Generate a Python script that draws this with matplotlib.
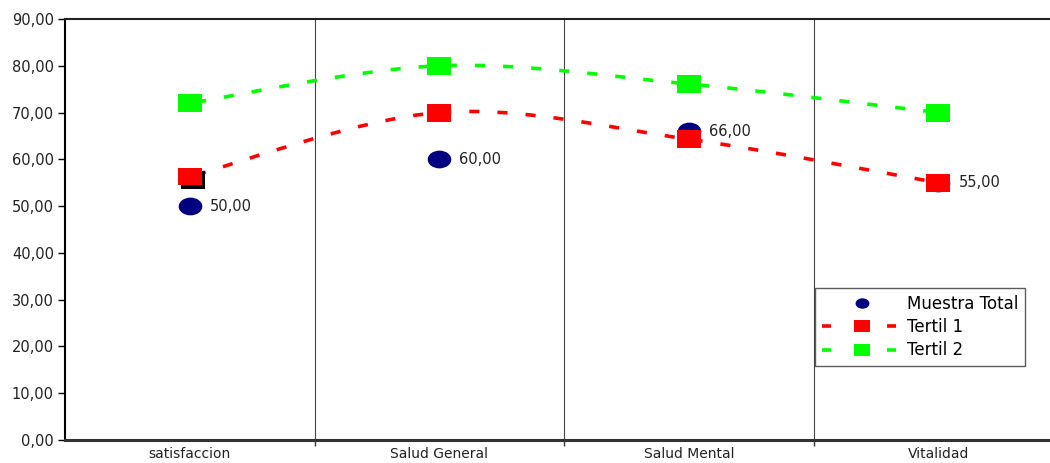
import numpy as np
import matplotlib
matplotlib.use("Agg")
import matplotlib.pyplot as plt
from matplotlib.path import Path
from matplotlib.patches import PathPatch
from matplotlib.transforms import Affine2D
from matplotlib.lines import Line2D
import matplotlib.patheffects as pe

plt.rcParams['font.family'] = ['DejaVu Sans']

categorias = ['satisfaccion', 'Salud General', 'Salud Mental', 'Vitalidad']
muestra_total = [50.0, 60.0, 66.0, 55.0]
tertil_1 = [56.3, 70.0, 64.3, 55.0]
tertil_2 = [72.0, 80.0, 76.1, 70.0]
yticks = [0, 10, 20, 30, 40, 50, 60, 70, 80, 90]

AZUL = '#000080'
ROJO = '#FF0000'
VERDE = '#00FF00'

# markers are a bit wider than tall
cuadro = Path([(-1.35, -1), (1.35, -1), (1.35, 1), (-1.35, 1), (-1.35, -1)],
              [Path.MOVETO, Path.LINETO, Path.LINETO, Path.LINETO, Path.CLOSEPOLY])
elipse = Path.unit_circle().transformed(Affine2D().scale(1.33, 1.0))


def suave(x, y):
    # Catmull-Rom style bezier through the points
    pts = np.column_stack([x, y]).astype(float)
    verts = [pts[0]]
    codes = [Path.MOVETO]
    n = len(pts)
    for i in range(n - 1):
        p0 = pts[i - 1] if i > 0 else pts[i]
        p1 = pts[i]
        p2 = pts[i + 1]
        p3 = pts[i + 2] if i + 2 < n else pts[i + 1]
        c1 = p1 + (p2 - p0) / 6.0
        c2 = p2 - (p3 - p1) / 6.0
        verts += [c1, c2, p2]
        codes += [Path.CURVE4] * 3
    return Path(verts, codes)


def coma(v):
    return f'{v:.2f}'.replace('.', ',')


fig = plt.figure(figsize=(10.5, 4.63), dpi=100)
ax = fig.add_axes([65 / 1050, 23 / 463, 998 / 1050, 421 / 463])

x = np.arange(len(categorias))

for serie, color in [(tertil_1, ROJO), (tertil_2, VERDE)]:
    patch = PathPatch(suave(x, serie), facecolor='none', edgecolor=color,
                      lw=2.6, linestyle=(6, (2.8, 5.0)), zorder=2, capstyle='butt')
    ax.add_patch(patch)

ax.plot(x, muestra_total, linestyle='none', marker=elipse, markersize=17,
        color=AZUL, markeredgewidth=0, zorder=3)
ax.plot(x[:1], tertil_1[:1], linestyle='none', marker=cuadro, markersize=17,
        color=ROJO, markeredgewidth=0, zorder=4,
        path_effects=[pe.SimplePatchShadow(offset=(2.5, -2.5), shadow_rgbFace='black', alpha=1.0),
                      pe.Normal()])
ax.plot(x[1:], tertil_1[1:], linestyle='none', marker=cuadro, markersize=17,
        color=ROJO, markeredgewidth=0, zorder=4)
ax.plot(x, tertil_2, linestyle='none', marker=cuadro, markersize=17,
        color=VERDE, markeredgewidth=0, zorder=4)

for xi, v in zip(x, muestra_total):
    ax.annotate(coma(v), (xi, v), xytext=(14.5, 0),
                textcoords='offset points', ha='left', va='center',
                fontsize=10.5, color='#222222', zorder=5)

ax.set_xlim(-0.5, 3.5)
ax.set_ylim(0, 90)
ax.set_yticks(yticks)
ax.set_yticklabels([coma(v) for v in yticks], fontsize=10.5, color='#222222')
ax.set_xticks(x)
ax.set_xticklabels(categorias, fontsize=10, color='#222222')
ax.tick_params(axis='x', which='major', length=0, pad=5)
ax.set_xticks([0.5, 1.5, 2.5], minor=True)
ax.tick_params(axis='x', which='minor', length=4, width=1, color='#333333')
ax.tick_params(axis='y', length=5, width=1, pad=3)
ax.grid(axis='x', which='minor', color='#444444', lw=0.8)
ax.set_axisbelow(True)

ax.spines['right'].set_visible(False)
ax.spines['top'].set_color('#222222')
ax.spines['top'].set_linewidth(1.5)
ax.spines['left'].set_linewidth(1.5)
ax.spines['bottom'].set_color('#333333')
ax.spines['bottom'].set_linewidth(2.2)

handles = [
    Line2D([], [], linestyle='none', marker=elipse, markersize=10, color=AZUL, markeredgewidth=0),
    Line2D([], [], color=ROJO, lw=2.6, linestyle=(0, (2.5, 6.5)), marker=cuadro,
           markersize=11, markeredgewidth=0),
    Line2D([], [], color=VERDE, lw=2.6, linestyle=(0, (2.5, 6.5)), marker=cuadro,
           markersize=11, markeredgewidth=0),
]
leg = fig.legend(handles, ['Muestra Total', 'Tertil 1', 'Tertil 2'],
                 loc='upper left', bbox_to_anchor=(815 / 1050, 1 - 288 / 463),
                 frameon=True, fancybox=False, fontsize=12, handlelength=4.8,
                 borderpad=0.4, labelspacing=0.32, handletextpad=0.3,
                 borderaxespad=0)
leg.get_frame().set_edgecolor('#333333')
leg.get_frame().set_linewidth(1.0)

fig.savefig('out.png', dpi=100)
